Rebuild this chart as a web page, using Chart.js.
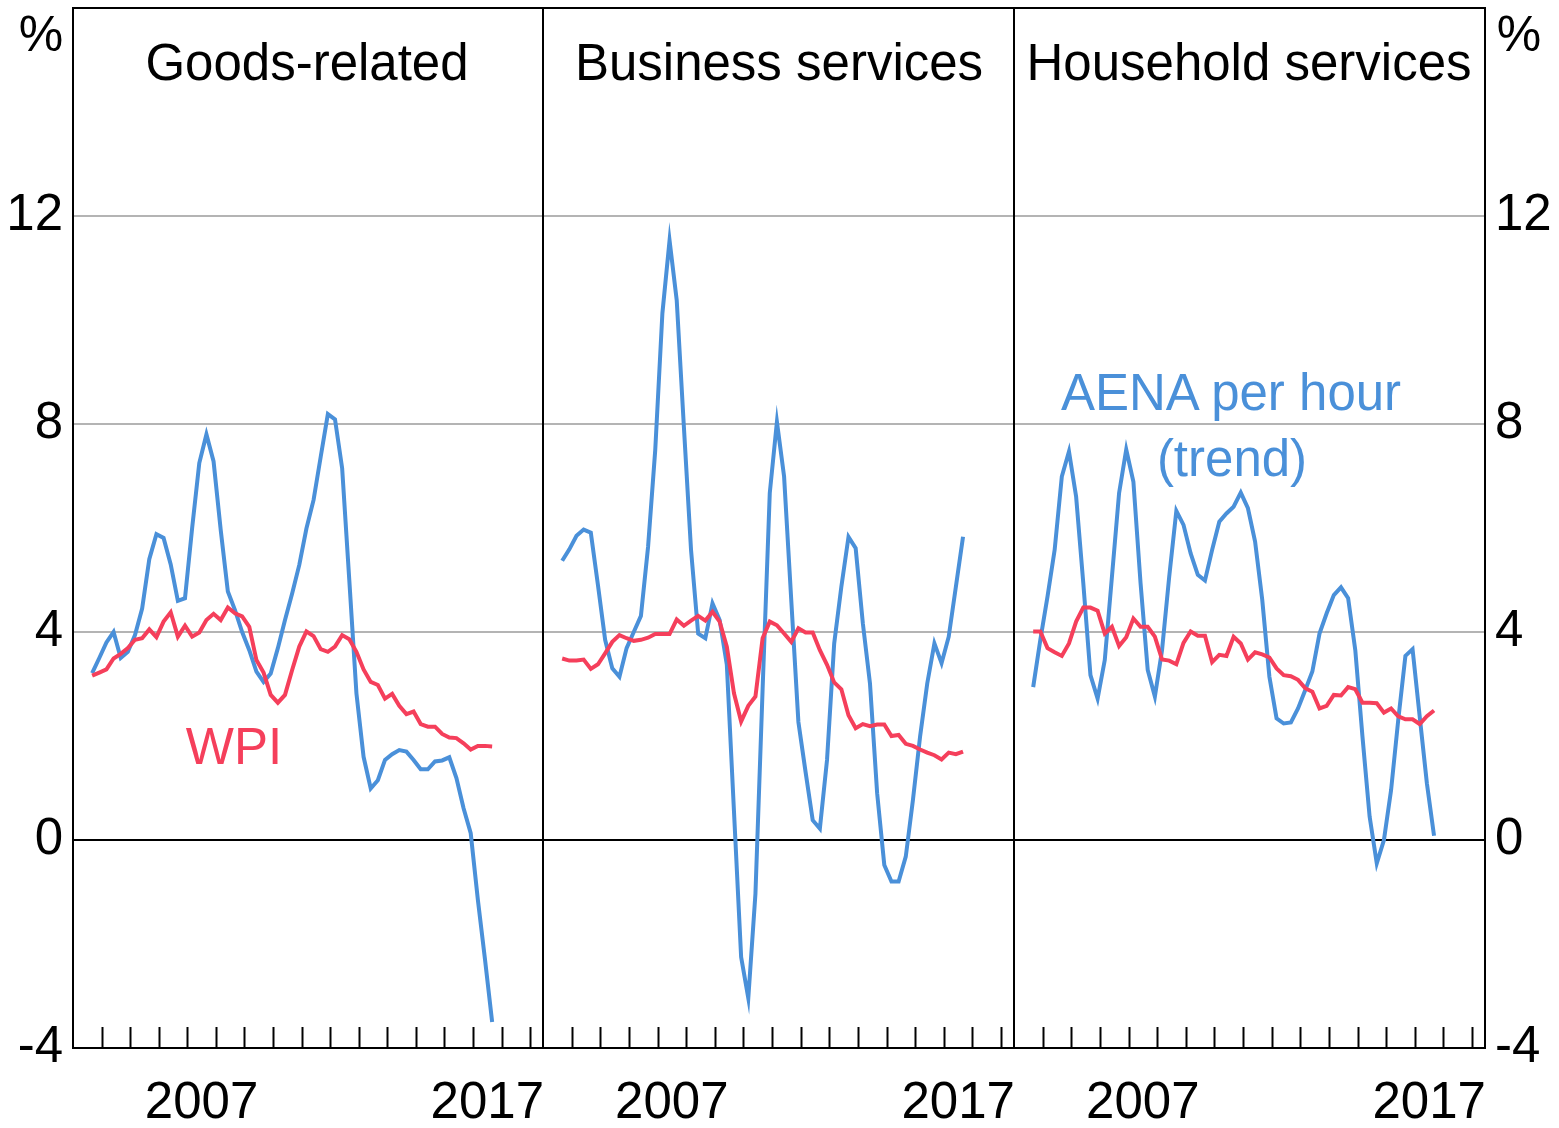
<!DOCTYPE html>
<html>
<head>
<meta charset="utf-8">
<script src="https://cdn.jsdelivr.net/npm/chart.js@4.4.1/dist/chart.umd.min.js"></script>
<style>
  html, body { margin: 0; padding: 0; background: #fff; }
  #wrap { position: relative; width: 1559px; height: 1128px; overflow: hidden; font-family: "Liberation Sans", Arial, sans-serif; }
  canvas { position: absolute; top: 0; }
  .lbl { position: absolute; font-size: 51px; line-height: 1; white-space: nowrap; transform: translate(-50%, -50%); }
</style>
</head>
<body>
<div id="wrap">
  <canvas id="c1" width="546" height="1128" style="left:0px"></canvas>
  <canvas id="c2" width="478" height="1128" style="left:540px"></canvas>
  <canvas id="c3" width="548" height="1128" style="left:1011px"></canvas>

  <div class="lbl" style="left:307px;top:62px">Goods-related</div>
  <div class="lbl" style="left:779px;top:62px">Business services</div>
  <div class="lbl" style="left:1249px;top:62px">Household services</div>
  <div class="lbl" style="left:41px;top:34px;font-size:50px">%</div>
  <div class="lbl" style="left:1519px;top:34px;font-size:50px">%</div>
  <div class="lbl" style="left:234px;top:746px;color:#f53f5b">WPI</div>
  <div class="lbl" style="left:1231px;top:392px;color:#4a90d9">AENA per hour</div>
  <div class="lbl" style="left:1232px;top:458px;color:#4a90d9">(trend)</div>
</div>

<script>
// quarterly, 2003 Q3 .. 2017 Q3
const quarters = [];
for (let y = 2003; y <= 2017; y++) {
  for (let q = 1; q <= 4; q++) {
    if ((y === 2003 && q < 3) || (y === 2017 && q > 3)) continue;
    quarters.push(y + '-Q' + q);
  }
}

const goodsWpi = [3.16,3.22,3.28,3.49,3.58,3.69,3.85,3.88,4.05,3.90,4.20,4.38,3.91,4.12,3.91,3.99,4.23,4.35,4.23,4.47,4.36,4.30,4.10,3.46,3.22,2.79,2.64,2.79,3.27,3.72,4.01,3.92,3.67,3.62,3.72,3.94,3.86,3.62,3.28,3.04,2.98,2.72,2.81,2.58,2.42,2.47,2.23,2.18,2.18,2.04,1.97,1.96,1.86,1.74,1.81,1.81,1.80];
const goodsAena = [3.21,3.50,3.80,4.00,3.50,3.62,3.94,4.45,5.40,5.88,5.81,5.30,4.60,4.65,6.00,7.25,7.80,7.28,5.96,4.78,4.42,4.00,3.65,3.24,3.04,3.20,3.69,4.23,4.74,5.29,5.99,6.54,7.37,8.19,8.09,7.15,5.00,2.82,1.60,0.99,1.15,1.54,1.65,1.73,1.70,1.54,1.36,1.36,1.51,1.53,1.59,1.19,0.61,0.13,-1.15,-2.30,-3.50];

const businessWpi = [3.49,3.45,3.45,3.47,3.29,3.38,3.59,3.81,3.94,3.88,3.83,3.85,3.89,3.96,3.96,3.96,4.24,4.12,4.22,4.31,4.22,4.39,4.20,3.72,2.82,2.28,2.58,2.76,3.88,4.20,4.13,3.97,3.81,4.07,3.99,3.99,3.65,3.37,3.03,2.90,2.40,2.15,2.23,2.19,2.22,2.22,2.00,2.02,1.85,1.81,1.74,1.68,1.63,1.55,1.68,1.65,1.70];
const businessAena = [5.37,5.59,5.85,5.97,5.91,4.90,3.85,3.30,3.14,3.69,4.00,4.31,5.64,7.50,10.13,11.53,10.38,7.95,5.58,3.97,3.88,4.55,4.23,3.37,0.55,-2.25,-3.04,-1.03,2.90,6.67,8.04,6.99,4.62,2.27,1.31,0.38,0.22,1.54,3.78,4.87,5.83,5.61,4.17,3.01,0.90,-0.48,-0.80,-0.80,-0.32,0.77,1.99,3.01,3.78,3.40,3.91,4.87,5.83];

const householdWpi = [4.01,4.01,3.69,3.61,3.54,3.78,4.20,4.47,4.47,4.41,3.97,4.10,3.73,3.90,4.26,4.10,4.10,3.91,3.47,3.45,3.38,3.79,4.01,3.93,3.93,3.42,3.56,3.54,3.91,3.78,3.47,3.61,3.57,3.51,3.30,3.17,3.15,3.08,2.92,2.85,2.53,2.58,2.79,2.78,2.94,2.90,2.64,2.64,2.63,2.45,2.53,2.38,2.32,2.32,2.23,2.38,2.49];
const householdAena = [2.94,3.85,4.68,5.58,6.99,7.47,6.60,4.94,3.17,2.72,3.46,5.06,6.67,7.51,6.89,4.94,3.27,2.76,3.65,5.06,6.33,6.06,5.51,5.10,4.99,5.58,6.12,6.28,6.41,6.68,6.38,5.74,4.62,3.14,2.34,2.24,2.26,2.53,2.88,3.24,3.97,4.36,4.71,4.86,4.65,3.65,1.99,0.45,-0.45,0.00,0.96,2.31,3.54,3.67,2.37,1.09,0.08];

const tickYears = [2004,2005,2006,2007,2008,2009,2010,2011,2012,2013,2014,2015,2016,2017,2018,2019];
const labelYears = [2007.5, 2017.5];
const yTicks = [-4, 0, 4, 8, 12];

const RED = '#f53f5b';
const BLUE = '#4a90d9';
const FONT = { family: '"Liberation Sans", Arial, sans-serif', size: 51 };

// quarter label -> decimal year (plotted mid-quarter-ish)
function qToYear(q) {
  const [y, qq] = q.split('-Q');
  return +y + (+qq - 1) * 0.25 + 0.17;
}

function toPoints(values) {
  return values.map((v, i) => ({ x: qToYear(quarters[i]), y: v }));
}

// frame + small year ticks along the bottom
const panelFrame = {
  id: 'panelFrame',
  afterDraw(chart) {
    const { ctx, chartArea, scales } = chart;
    const { left, right, top, bottom } = chartArea;
    ctx.save();
    ctx.strokeStyle = '#000';
    ctx.lineWidth = 2;
    tickYears.forEach(yr => {
      const px = Math.round(scales.x.getPixelForValue(yr)) + 0.5;
      ctx.beginPath();
      ctx.moveTo(px, bottom);
      ctx.lineTo(px, bottom - 21);
      ctx.stroke();
    });
    ctx.strokeRect(left, top, right - left, bottom - top);
    ctx.restore();
  }
};

function makePanel(id, wpi, aena, yPos, yWidth, pad) {
  const showY = yWidth > 0;
  return new Chart(document.getElementById(id), {
    type: 'line',
    data: {
      datasets: [
        { label: 'WPI', data: toPoints(wpi), borderColor: RED, borderWidth: 4, pointRadius: 0, tension: 0 },
        { label: 'AENA per hour (trend)', data: toPoints(aena), borderColor: BLUE, borderWidth: 4, pointRadius: 0, tension: 0 }
      ]
    },
    options: {
      responsive: false,
      animation: false,
      layout: { padding: { top: 8, left: pad.left, right: pad.right, bottom: 0 } },
      plugins: { legend: { display: false }, tooltip: { enabled: false } },
      scales: {
        x: {
          type: 'linear',
          min: 2003,
          max: 2019.45,
          grid: { display: false, drawTicks: false },
          border: { display: false },
          afterBuildTicks: s => { s.ticks = labelYears.map(v => ({ value: v })); },
          afterFit: s => { s.height = 80; s.paddingLeft = 0; s.paddingRight = 0; },
          ticks: {
            autoSkip: false, maxRotation: 0, padding: 25,
            color: '#000', font: FONT,
            callback: v => String(Math.floor(v))
          }
        },
        y: {
          position: yPos,
          min: -4,
          max: 16,
          afterBuildTicks: s => { s.ticks = yTicks.concat([16]).map(v => ({ value: v })); },
          afterFit: s => { s.width = yWidth; s.paddingTop = 0; s.paddingBottom = 0; },
          grid: {
            drawTicks: false,
            lineWidth: 2,
            color: c => c.tick.value === 0 ? '#000' : (c.tick.value === -4 || c.tick.value === 16 ? 'rgba(0,0,0,0)' : '#b4b4b4')
          },
          border: { display: false },
          ticks: {
            display: showY,
            padding: 10,
            color: '#000',
            font: FONT,
            callback: v => v === 16 ? '' : String(v)
          }
        }
      }
    },
    plugins: [panelFrame]
  });
}

makePanel('c1', goodsWpi, goodsAena, 'left', 73, { left: 0, right: 3 });
makePanel('c2', businessWpi, businessAena, 'left', 0, { left: 3, right: 4 });
makePanel('c3', householdWpi, householdAena, 'right', 74, { left: 3, right: 0 });
</script>
</body>
</html>
